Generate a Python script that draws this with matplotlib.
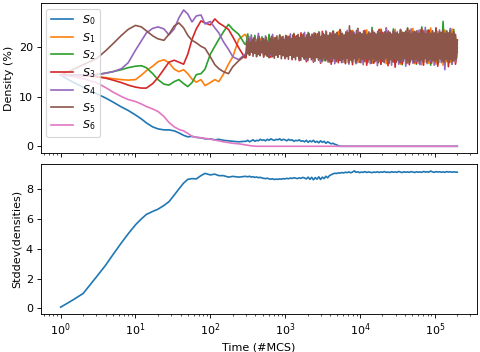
import numpy as np
import matplotlib
matplotlib.use("Agg")
import matplotlib.pyplot as plt

# sampling times (#MCS): smooth start, then the noisy steady state
t_early = [1, 1.5, 2, 3, 4, 5, 6.5, 8, 10, 12, 14, 17, 20, 24, 28, 33, 38, 44,
           50, 57, 65, 75, 85, 100, 115, 130, 150, 175, 200, 240, 290]
t_late = np.geomspace(300, 2e5, 120)
t_late_fine = np.geomspace(300, 2e5, 240)

# densities (%) of the 7 species
s0_early = [14.3, 12.8, 11.9, 10.6, 9.7, 8.9, 7.9, 7.2, 6.3, 5.5, 4.7, 3.9, 3.5, 3.3, 3.3,
            3.1, 2.7, 2.2, 1.9, 2.0, 1.8, 1.7, 1.5, 1.5, 1.3, 1.4, 1.2, 1.1, 1.0, 0.9, 1.0]
s1_early = [14.3, 14.3, 14.2, 14.0, 13.8, 13.6, 13.4, 13.3, 13.4, 14.3, 15.2, 16.1, 17.0, 17.4, 16.8,
            15.5, 15.0, 15.4, 14.6, 13.5, 12.9, 13.4, 12.2, 12.8, 13.4, 13.0, 14.5, 16.5, 18.0, 21.5, 22.5]
s2_early = [14.3, 14.3, 14.3, 14.4, 14.7, 15.0, 15.4, 15.8, 16.1, 16.2, 15.8, 14.6, 13.4, 12.5, 12.3,
            13.0, 13.4, 12.6, 12.0, 12.8, 14.4, 14.6, 15.5, 18.5, 20.1, 21.5, 23.0, 24.5, 23.5, 22.5, 20.5]
s3_early = [14.3, 14.3, 14.2, 14.0, 13.7, 13.3, 12.8, 12.3, 11.9, 11.7, 11.7, 12.6, 13.8, 15.5, 16.9,
            17.3, 16.9, 16.5, 18.5, 21.5, 23.6, 25.2, 24.8, 24.4, 25.6, 24.8, 24.2, 23.5, 22.0, 19.8, 17.8]
s4_early = [14.3, 14.3, 14.3, 14.4, 14.7, 15.0, 15.6, 16.8, 19.3, 21.2, 22.8, 23.7, 24.0, 23.6, 22.4,
            23.6, 25.8, 27.4, 26.6, 25.0, 26.2, 26.4, 24.6, 25.1, 23.8, 22.8, 21.0, 19.5, 18.0, 17.4, 18.5]
s5_early = [14.3, 15.5, 16.4, 17.6, 19.2, 20.6, 22.3, 23.5, 24.3, 24.0, 23.2, 22.2, 21.6, 21.3, 22.5,
            24.2, 24.8, 23.8, 22.3, 21.3, 20.8, 20.1, 19.7, 18.0, 16.4, 15.6, 15.0, 14.6, 16.0, 17.2, 18.2]
s6_early = [14.3, 14.0, 13.6, 12.8, 11.8, 10.9, 10.0, 9.4, 9.0, 8.5, 8.0, 7.5, 7.0, 6.0, 4.8,
            3.9, 3.4, 3.1, 2.6, 2.0, 1.8, 1.7, 1.6, 1.45, 1.25, 1.1, 0.9, 0.75, 0.6, 0.5, 0.3]

s0_late = [1.0, 1.2, 0.9, 1.1, 1.3, 1.0, 1.2, 1.1, 1.4, 1.2,
           1.3, 1.1, 1.4, 1.2, 1.5, 1.3, 1.2, 1.4, 1.3, 1.5,
           1.2, 1.4, 1.3, 1.1, 1.4, 1.2, 1.3, 1.0, 1.2, 1.1,
           1.3, 1.0, 1.1, 0.9, 1.2, 0.8, 1.1, 0.9, 1.2, 0.8,
           1.0, 0.7, 1.1, 0.8, 1.0, 0.6, 0.9, 0.7, 0.5, 0.6,
           0.4, 0.3, 0.1, 0.0]
s1_late = [22.3, 21.2, 22.0, 19.8, 21.5, 19.2, 20.8, 19.5, 21.6, 19.0,
           20.5, 18.8, 21.2, 19.4, 20.9, 18.6, 21.8, 19.1, 20.2, 18.5,
           21.4, 19.3, 20.7, 18.2, 22.1, 19.0, 21.0, 17.9, 21.6, 18.8,
           20.3, 18.1, 22.4, 19.2, 21.1, 17.6, 21.9, 18.4, 20.6, 17.8,
           22.6, 18.9, 21.3, 17.4, 22.2, 18.2, 21.7, 17.2, 22.8, 18.6,
           21.0, 17.5, 23.1, 18.0, 21.8, 16.9, 22.5, 18.3, 21.2, 17.3,
           23.3, 17.8, 22.0, 16.8, 22.9, 18.1, 21.5, 17.0, 23.4, 17.6,
           22.3, 16.7, 22.8, 18.2, 21.9, 17.1, 23.6, 17.4, 22.1, 16.6,
           23.0, 17.9, 22.6, 16.9, 23.5, 17.3, 21.8, 16.5, 22.9, 17.7,
           23.2, 16.8, 22.4, 17.5, 23.7, 16.6, 22.7, 17.2, 21.9, 16.4,
           23.3, 17.8, 22.5, 16.7, 23.8, 17.1, 22.2, 16.5, 23.1, 17.6,
           22.8, 16.3, 23.4, 17.0, 22.6, 16.9, 23.6, 17.4, 22.0, 18.9]
s2_late = [20.5, 22.6, 19.4, 21.8, 18.9, 22.3, 19.6, 21.1, 18.4, 22.0,
           19.1, 21.7, 18.7, 22.5, 19.3, 20.9, 18.2, 21.9, 19.0, 22.4,
           18.5, 21.3, 17.9, 22.2, 18.8, 21.6, 17.7, 22.7, 18.6, 21.0,
           17.8, 22.4, 18.3, 21.5, 17.5, 22.9, 18.7, 21.2, 17.3, 22.6,
           18.1, 23.0, 17.6, 21.9, 17.2, 22.8, 18.4, 21.4, 16.9, 23.2,
           17.9, 22.1, 17.1, 23.5, 18.2, 21.7, 16.8, 22.9, 17.6, 23.3,
           17.0, 22.4, 16.6, 23.7, 17.8, 22.0, 17.2, 23.1, 16.7, 22.6,
           17.5, 23.9, 16.9, 22.3, 17.3, 23.4, 16.5, 22.8, 17.7, 23.0,
           16.8, 22.5, 17.4, 23.6, 16.6, 22.2, 17.9, 23.3, 16.4, 22.9,
           17.1, 23.8, 16.7, 22.4, 17.6, 23.1, 16.5, 22.7, 17.3, 24.0,
           16.9, 22.6, 17.5, 23.4, 16.3, 22.9, 17.8, 23.7, 16.6, 22.3,
           17.2, 25.1, 16.8, 23.2, 17.4, 22.8, 16.5, 23.5, 17.0, 21.2]
s3_late = [17.8, 20.9, 18.3, 21.7, 19.0, 20.6, 18.5, 22.1, 19.2, 20.4,
           18.1, 21.5, 19.4, 20.8, 17.9, 21.9, 18.8, 20.7, 18.0, 22.3,
           19.1, 21.0, 17.6, 22.0, 18.7, 21.4, 17.4, 22.5, 18.9, 20.9,
           17.2, 22.8, 18.4, 21.3, 17.0, 22.2, 18.6, 21.8, 16.9, 22.7,
           18.0, 21.1, 16.7, 23.1, 17.7, 22.4, 17.1, 21.6, 16.5, 23.0,
           17.9, 22.2, 16.8, 23.4, 17.3, 21.9, 16.6, 22.8, 17.8, 23.2,
           16.4, 22.5, 17.5, 23.6, 16.9, 22.0, 17.2, 23.3, 16.3, 22.7,
           17.6, 23.0, 16.7, 22.4, 17.0, 23.5, 16.5, 22.9, 17.4, 23.8,
           16.2, 22.6, 17.7, 23.1, 15.9, 22.3, 17.1, 23.4, 16.6, 22.8,
           17.3, 23.7, 16.4, 22.5, 17.8, 23.0, 16.7, 22.2, 17.0, 23.6,
           16.3, 22.9, 17.5, 23.3, 16.8, 22.4, 17.2, 23.8, 16.1, 22.7,
           17.4, 23.1, 16.6, 22.5, 16.0, 23.4, 17.1, 22.9, 16.5, 19.8]
s4_late = [18.5, 21.9, 19.6, 22.4, 18.8, 21.3, 20.1, 22.7, 19.0, 21.6,
           18.6, 22.2, 19.5, 21.0, 18.3, 22.5, 19.2, 21.4, 18.0, 21.8,
           18.9, 22.1, 17.8, 21.5, 18.7, 22.6, 17.6, 21.2, 18.5, 22.3,
           17.4, 21.7, 18.2, 22.9, 17.3, 21.4, 18.6, 22.5, 17.1, 21.9,
           17.9, 22.8, 16.9, 21.6, 17.7, 23.2, 17.0, 22.1, 17.5, 22.7,
           16.6, 22.4, 17.8, 23.0, 16.8, 21.8, 17.4, 23.3, 16.5, 22.6,
           17.6, 22.9, 16.7, 23.5, 17.2, 22.2, 16.4, 23.0, 17.7, 22.5,
           16.6, 23.4, 17.3, 22.7, 16.2, 23.1, 17.5, 22.4, 16.8, 23.7,
           17.0, 22.9, 16.3, 23.2, 17.6, 22.6, 16.5, 23.5, 17.2, 22.3,
           16.1, 23.0, 17.4, 23.6, 16.7, 22.8, 17.1, 23.3, 16.4, 22.5,
           17.7, 23.9, 16.6, 22.7, 17.0, 23.2, 16.3, 22.9, 17.5, 23.4,
           16.8, 22.6, 15.4, 23.1, 17.2, 23.7, 16.5, 22.8, 17.0, 20.6]
# S5 is sampled more finely (it is drawn on top of the band)
s5_late = [18.2, 21.0, 18.6, 21.6, 18.3, 20.9, 18.9, 21.4, 18.1, 21.8,
           18.7, 20.8, 18.0, 21.5, 18.5, 22.0, 18.2, 21.1, 18.8, 21.7,
           17.9, 21.3, 18.4, 21.9, 18.1, 20.9, 17.8, 21.6, 18.6, 22.1,
           18.0, 21.4, 17.7, 21.8, 18.3, 22.2, 17.9, 21.2, 18.5, 21.9,
           17.6, 22.0, 18.2, 21.5, 17.8, 22.3, 18.0, 21.7, 17.5, 22.1,
           18.3, 21.6, 17.7, 22.4, 17.9, 21.8, 17.4, 22.2, 18.1, 22.5,
           17.6, 21.9, 17.3, 22.3, 18.0, 22.6, 17.5, 21.8, 17.8, 22.4,
           17.2, 22.7, 17.9, 22.0, 17.4, 22.5, 17.7, 22.8, 17.1, 22.2,
           17.8, 22.6, 17.3, 22.9, 17.6, 22.1, 17.0, 22.7, 17.9, 22.4,
           17.2, 23.0, 17.5, 22.3, 16.9, 22.8, 17.7, 22.5, 17.1, 23.1,
           17.6, 22.6, 17.0, 22.9, 17.8, 22.2, 17.3, 23.2, 16.9, 22.7,
           17.5, 22.4, 17.1, 23.0, 17.7, 22.8, 16.8, 24.2, 17.4, 22.6,
           17.0, 23.1, 17.6, 22.5, 16.9, 23.3, 17.3, 22.7, 17.8, 22.9,
           16.8, 22.6, 17.5, 23.2, 17.1, 22.8, 17.7, 22.4, 16.9, 23.0,
           17.4, 22.7, 16.7, 23.3, 17.6, 22.9, 17.0, 22.5, 17.3, 23.1,
           16.8, 22.8, 17.5, 23.4, 17.1, 22.6, 16.9, 23.0, 17.7, 22.7,
           17.2, 23.2, 16.7, 22.9, 17.4, 22.5, 17.0, 23.3, 17.6, 22.8,
           16.9, 23.0, 17.3, 22.6, 16.8, 23.4, 17.5, 22.9, 17.1, 22.7,
           17.6, 23.1, 16.7, 22.8, 17.2, 23.3, 17.0, 22.6, 17.4, 23.0,
           16.8, 22.9, 17.5, 23.2, 17.1, 22.7, 16.6, 23.4, 17.3, 22.8,
           17.0, 23.1, 17.6, 22.6, 16.9, 23.3, 17.2, 22.9, 17.5, 22.7,
           16.7, 23.2, 17.3, 22.8, 17.0, 23.5, 17.4, 22.6, 16.8, 23.0,
           17.6, 22.9, 17.1, 23.3, 16.9, 22.7, 17.5, 23.1, 17.2, 22.8,
           16.8, 23.2, 17.4, 22.6, 17.0, 23.0, 17.3, 22.5, 17.6, 21.4]
t6_tail = [350, 420, 2e5]
s6_tail = [0.1, 0.0, 0.0]

# standard deviation of the densities
std_early = [0.08, 0.6, 1.0, 2.1, 2.9, 3.6, 4.4, 5.0, 5.6, 6.0, 6.3, 6.5, 6.65, 6.9, 7.15,
             7.6, 8.0, 8.4, 8.65, 8.7, 8.68, 8.9, 9.05, 8.95, 9.0, 8.9, 8.9, 8.8, 8.85, 8.8, 8.85]
std_late = [8.85, 8.82, 8.86, 8.80, 8.83, 8.78, 8.81, 8.76, 8.79, 8.74,
            8.72, 8.70, 8.73, 8.68, 8.66, 8.69, 8.64, 8.67, 8.65, 8.68,
            8.66, 8.70, 8.68, 8.72, 8.69, 8.74, 8.71, 8.76, 8.73, 8.70,
            8.75, 8.72, 8.78, 8.74, 8.68, 8.80, 8.65, 8.79, 8.62, 8.77,
            8.66, 8.82, 8.64, 8.80, 8.70, 8.86, 8.75, 8.90, 8.96, 9.02,
            9.06, 9.04, 9.09, 9.07, 9.11, 9.08, 9.13, 9.10, 9.15, 9.09,
            9.14, 9.22, 9.12, 9.16, 9.10, 9.14, 9.12, 9.17, 9.11, 9.15,
            9.13, 9.10, 9.14, 9.12, 9.16, 9.11, 9.15, 9.13, 9.17, 9.12,
            9.14, 9.11, 9.16, 9.13, 9.15, 9.12, 9.18, 9.14, 9.11, 9.16,
            9.13, 9.15, 9.12, 9.17, 9.14, 9.11, 9.16, 9.13, 9.15, 9.12,
            9.18, 9.14, 9.16, 9.13, 9.21, 9.15, 9.12, 9.17, 9.14, 9.16,
            9.13, 9.15, 9.12, 9.17, 9.14, 9.16, 9.13, 9.15, 9.14, 9.13]

labels = [r'$S_%d$' % i for i in range(7)]

t_full = list(t_early) + list(t_late)
series = [
    (t_full[:31 + len(s0_late)] + [2e5], s0_early + s0_late + [0.0]),
    (t_full, s1_early + s1_late),
    (t_full, s2_early + s2_late),
    (t_full, s3_early + s3_late),
    (t_full, s4_early + s4_late),
    (list(t_early) + list(t_late_fine), s5_early + s5_late),
    (list(t_early) + t6_tail, s6_early + s6_tail),
]

fig, (ax1, ax2) = plt.subplots(2, 1, sharex=True, figsize=(6, 4.4), dpi=80)
fig.subplots_adjust(left=0.085, right=0.994, top=0.991, bottom=0.108, hspace=0.073)

for (t, s), lab in zip(series, labels):
    ax1.plot(t, s, label=lab)
ax1.set_xscale('log')
ax1.set_ylabel('Density (%)')
ax1.legend(loc='upper left', labelspacing=0.34)

ax2.plot(t_full, std_early + std_late)
ax2.set_ylabel('Stddev(densities)')
ax2.set_xlabel('Time (#MCS)')

plt.savefig('out.png', dpi=80)
